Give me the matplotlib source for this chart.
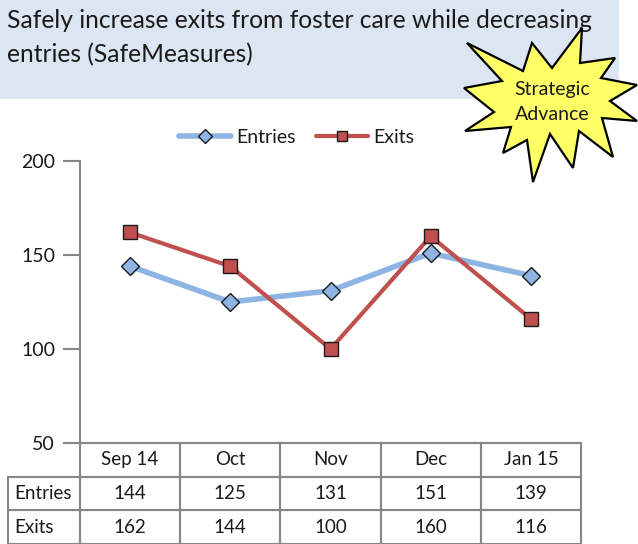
import matplotlib
matplotlib.use("Agg")
import matplotlib.pyplot as plt
from matplotlib.patches import Polygon, Rectangle
from matplotlib.table import Table

plt.rcParams['font.family'] = ['Lato', 'DejaVu Sans']

months = ['Sep 14', 'Oct', 'Nov', 'Dec', 'Jan 15']
entries = [144, 125, 131, 151, 139]
exits = [162, 144, 100, 160, 116]
y_ticks = [50, 100, 150, 200]

W, H = 638, 544
GREY = '#868686'
TEXT = '#1a1a1a'

fig = plt.figure(figsize=(W / 100, H / 100), dpi=100, facecolor='white')

# overlay in pixel coords for banner and star
bg = fig.add_axes([0, 0, 1, 1], zorder=0)
bg.set_xlim(0, W)
bg.set_ylim(H, 0)
bg.axis('off')
bg.add_patch(Rectangle((0, 0), 619, 99, fc='#dce6f2', ec='none'))
bg.text(7, 21, 'Safely increase exits from foster care while decreasing',
        fontsize=17.7, color=TEXT, va='center')
bg.text(7, 55, 'entries (SafeMeasures)', fontsize=17.7, color=TEXT, va='center')

# chart
left, right, top, bottom = 80, 581, 161, 443
ax = fig.add_axes([left / W, 1 - bottom / H, (right - left) / W, (bottom - top) / H], zorder=1)
ax.patch.set_alpha(0)
x = [i + 0.5 for i in range(len(months))]
ax.plot(x, entries, color='#8db4e2', lw=4, marker='D', ms=9, mfc='#8db4e2',
        mec='#1a1a1a', mew=1.0, label='Entries', solid_capstyle='round')
ax.plot(x, exits, color='#c0504d', lw=3, marker='s', ms=9.5, mfc='#c0504d',
        mec='#1a1a1a', mew=1.0, label='Exits', solid_capstyle='round')
ax.set_xlim(0, 5)
ax.set_ylim(50, 200)
ax.set_yticks(y_ticks)
ax.set_xticks([])
ax.tick_params(axis='y', length=12, width=1.5, color=GREY, labelsize=14, labelcolor=TEXT, pad=6)
for s in ['top', 'right']:
    ax.spines[s].set_visible(False)
for s in ['left', 'bottom']:
    ax.spines[s].set_color(GREY)
    ax.spines[s].set_linewidth(1.5)

# data table under the axis, first column holds the series names
label_w = 72 / (right - left)
table_h = 101 / (bottom - top)
tab = Table(ax, bbox=[-label_w, -table_h, 1 + label_w, table_h])
tab.auto_set_font_size(False)
rows = [[''] + months, ['Entries'] + entries, ['Exits'] + exits]
for r, row in enumerate(rows):
    for c, val in enumerate(row):
        cell = tab.add_cell(r, c, width=label_w if c == 0 else 0.2, height=1 / 3, text=str(val),
                            loc='left' if c == 0 else 'center', edgecolor=GREY, facecolor='none')
        cell.set_linewidth(1.5)
        cell.get_text().set_color(TEXT)
        if c == 0:
            cell.PAD = 0.08
            if r == 0:
                cell.set_visible(False)
tab.set_fontsize(13.5)
ax.add_table(tab)

leg = ax.legend(loc='center', bbox_to_anchor=(0.432, 1.085), ncol=2, frameon=False, fontsize=14,
                handlelength=2.7, columnspacing=1.05, handletextpad=0.25, labelcolor=TEXT)
for h in leg.get_lines():
    h.set_markersize(7)

# starburst
fg = fig.add_axes([0, 0, 1, 1], zorder=2)
fg.set_xlim(0, W)
fg.set_ylim(H, 0)
fg.axis('off')
star = [(582, 28), (580, 63), (615, 58), (601, 78), (637, 85), (610, 101), (637, 121),
        (602, 118), (613, 157), (579, 131), (573, 168), (550, 134), (533, 182), (527, 140),
        (503, 153), (511, 127), (465, 131), (494, 112), (464, 88), (502, 81), (467, 43),
        (523, 71), (532, 43), (552, 68)]
fg.add_patch(Polygon(star, closed=True, fc='#ffff66', ec='black', lw=1.6, joinstyle='miter'))
fg.text(552, 90, 'Strategic', fontsize=14, color=TEXT, ha='center', va='center')
fg.text(552, 115, 'Advance', fontsize=14, color=TEXT, ha='center', va='center')

fig.savefig('out.png', dpi=100)
